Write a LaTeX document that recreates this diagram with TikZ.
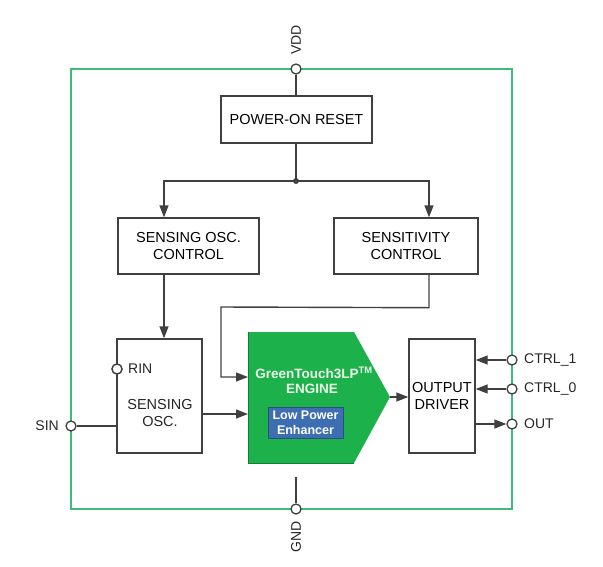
\documentclass[tikz,border=0pt]{standalone}
\usepackage{fontspec}
\setmainfont{Liberation Sans}
\usetikzlibrary{arrows.meta}
\definecolor{linegray}{HTML}{404040}
\definecolor{greenline}{HTML}{3DBB78}
\definecolor{enggreen}{HTML}{1DB14B}
\definecolor{enhblue}{HTML}{3E6EB2}
\definecolor{enhdark}{HTML}{2A4F80}
\definecolor{engtext}{HTML}{EAFBEA}
\begin{document}
\begin{tikzpicture}[x=1pt,y=-1pt,
  wire/.style={draw=linegray, line width=1.4pt},
  arr/.style={wire,-{Triangle[length=12pt,width=9pt]}},
  blk/.style={draw=linegray, line width=1.4pt, fill=white, font=\fontsize{14.5}{17}\selectfont, align=center, inner sep=0pt},
  pin/.style={circle, draw=linegray, fill=white, line width=1.3pt, minimum size=10pt, inner sep=0pt},
  lbl/.style={font=\fontsize{14}{17}\selectfont, inner sep=0pt, text=black!85},
  engtxt/.style={font=\bfseries\fontsize{13.5}{16}\selectfont, text=engtext, inner sep=0pt, align=center}]
\useasboundingbox (0,0) rectangle (603,566);
% chip outline
\draw[greenline, line width=1.3pt] (71,69) rectangle (512,509);
% blocks
\node[blk, minimum width=151pt, minimum height=47pt] (por) at (296.5,119.5) {POWER-ON RESET};
\node[blk, minimum width=141pt, minimum height=56pt] (soc) at (188.5,246) {SENSING OSC.\\CONTROL};
\node[blk, minimum width=144pt, minimum height=56pt] (sc) at (406,246) {SENSITIVITY\\CONTROL};
\node[blk, minimum width=85pt, minimum height=114pt] (so) at (159.5,396) {};
\node[lbl, align=center, font=\fontsize{14.5}{17}\selectfont] (sotxt) at (160,413) {SENSING\\OSC.};
\node[blk, minimum width=66pt, minimum height=114pt] (od) at (442,396) {OUTPUT\\DRIVER};
% engine
\coordinate (engL1) at (248,377);
\coordinate (engL2) at (248,414);
\coordinate (engtip) at (390,397);
\fill[enggreen] (248,332) -- (354,332) -- (engtip) -- (354,463) -- (248,463) -- cycle;
\draw[enggreen!70!black, line width=0.6pt] (248,332) -- (248,463) -- (354,463);
\node[engtxt] (engname) at (314,373) {GreenTouch3LP\textsuperscript{TM}};
\node[engtxt] (engword) at (312,389) {ENGINE};
\node[draw=enhdark, fill=enhblue, line width=0.8pt, minimum width=75pt, minimum height=31pt, engtxt, text=white, font=\bfseries\fontsize{12.5}{15}\selectfont] (enh) at (305.5,422.5) {Low Power\\Enhancer};
% pins
\coordinate (gndtop) at (296,477);
\node[pin] (vdd) at (296,69) {};
\node[pin] (gnd) at (296,509) {};
\node[pin] (sin) at (71,426) {};
\node[pin] (rin) at (117,369) {};
\node[pin] (ctrl1) at (512,360) {};
\node[pin] (ctrl0) at (512,389) {};
\node[pin] (out) at (512,424) {};
% pin labels
\node[lbl, rotate=90] (vddl) at (296,40) {VDD};
\node[lbl, rotate=90] (gndl) at (296,537) {GND};
\node[lbl, anchor=east] (sinl) at (59,426) {SIN};
\node[lbl, anchor=west] (rinl) at (128,369) {RIN};
\node[lbl, anchor=west] (ctrl1l) at (524,360) {CTRL\_1};
\node[lbl, anchor=west] (ctrl0l) at (524,389) {CTRL\_0};
\node[lbl, anchor=west] (outl) at (524,424) {OUT};
% connectors
\node[circle, fill=linegray, inner sep=0pt, minimum size=6pt] (j) at (296,181) {};
\draw[wire] (vdd) -- (vdd |- por.north);
\draw[wire] (vdd |- por.south) -- (j.center);
\draw[arr] (j.center) -| ([xshift=-24.5pt]soc.north);
\draw[arr] (j.center) -| ([xshift=23pt]sc.north);
\draw[arr] ([xshift=-24.5pt]soc.south) -- ([xshift=-24.5pt]soc.south |- so.north);
\draw[arr] ([xshift=23pt]sc.south) -- ++(0,33) -- (221,307) -- (221,377) -- (engL1);
\draw[arr] (so.east |- engL2) -- (engL2);
\draw[wire] (sin) -- (so.west |- sin);
\draw[arr] (engtip) -- (od.west |- engtip);
\draw[arr] (ctrl1) -- (od.east |- ctrl1);
\draw[arr] (ctrl0) -- (od.east |- ctrl0);
\draw[arr] (od.east |- out) -- (out);
\draw[wire] (gndtop) -- (gnd);
\node[pin] at (rin) {};
\end{tikzpicture}
\end{document}
